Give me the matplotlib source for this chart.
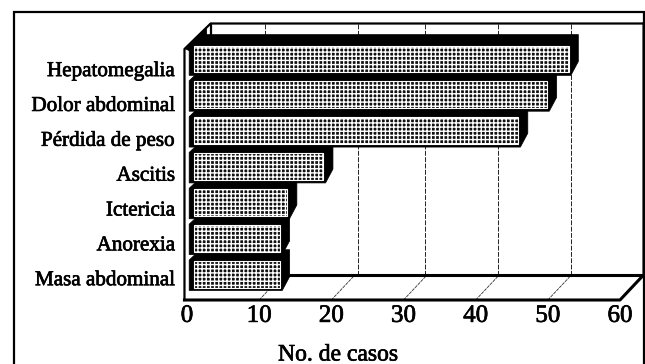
import matplotlib
matplotlib.use('Agg')
import matplotlib.pyplot as plt
import matplotlib.patheffects as pe
from matplotlib.patches import Polygon, Rectangle
import numpy as np

sintomas = ['Hepatomegalia', 'Dolor abdominal', 'Pérdida de peso', 'Ascitis',
            'Ictericia', 'Anorexia', 'Masa abdominal']
casos = [52, 49, 45, 18, 13, 12, 12]
ticks_x = [0, 10, 20, 30, 40, 50, 60]
# the back wall gridlines do not line up with the floor in the original
rejilla_fondo = [7.5, 20.4, 29.7, 39.8, 49.9]

plt.rcParams['font.family'] = ['Liberation Serif', 'DejaVu Serif']
plt.rcParams['hatch.linewidth'] = 1.0

W, H = 645, 364
fig = plt.figure(figsize=(W / 100, H / 100), dpi=100)

# frame around the whole chart
fig.add_artist(Rectangle((14 / W, -0.02), 630 / W, 1.02 - 12.5 / H, transform=fig.transFigure,
                         fill=False, ec='black', lw=1.6))

# axes = front plane of the fake 3d box
ax = fig.add_axes([187 / W, 64 / H, 433 / W, 251 / H])
ax.set_xlim(0, 60)
ax.set_ylim(7, 0)
ax.patch.set_alpha(0)
for s in ax.spines.values():
    s.set_visible(False)

ux = 433 / 60   # px per case
uy = 251 / 7    # px per category
fx, fy = 24 / ux, 25.5 / uy   # depth of box
bx, by = 11 / ux, 11 / uy     # depth of bars
x0 = 6.5 / ux
lw_box = 1.6

# floor gridlines and back wall gridlines
for t in ticks_x[1:-1]:
    ax.plot([t, t + fx * 0.95], [7, 7 - fy * 0.95], color='#333333', lw=0.6, ls=(0, (4, 1)), clip_on=False, zorder=1)
for t in rejilla_fondo:
    ax.plot([t + fx, t + fx], [-fy, 7 - fy], color='#222222', lw=0.7, ls=(0, (5, 1.5)), clip_on=False, zorder=1)

# box lines
ax.plot([-0.35, -0.35, fx - 0.05, 60 + fx], [7, 0, -fy, -fy], color='black', lw=lw_box, clip_on=False, zorder=2)
ax.plot([-0.35, 60, 60 + fx, 60 + fx], [7, 7, 7 - fy, -fy], color='black', lw=lw_box + 0.6, clip_on=False, zorder=2)
ax.plot([fx, 60 + fx], [7 - fy, 7 - fy], color='black', lw=lw_box + 0.6, clip_on=False, zorder=2)
ax.plot([fx, fx], [-fy, 0], color='black', lw=lw_box, clip_on=False, zorder=2)

# bars
pos = np.arange(len(casos)) + 0.28
alto = 0.75
for p, v in zip(pos, casos):
    arriba = p - alto / 2
    abajo = p + alto / 2
    negro = Polygon([(x0 - 0.6, abajo + 0.08), (x0 - 0.6, arriba - 0.02), (x0 - 0.6 + bx, arriba - by),
                     (x0 + v + bx - 0.2, arriba - by), (x0 + v + bx - 0.2, abajo - by),
                     (x0 + v + 0.3, abajo + 0.08)],
                    closed=True, fc='black', ec='black', lw=0.5, clip_on=False, zorder=3)
    ax.add_patch(negro)
ax.barh(pos, casos, left=x0, height=alto, facecolor='#111111', edgecolor='white', hatch='++++',
        linewidth=0.8, zorder=4, clip_on=False)

# wedge in the top left corner
ax.add_patch(Polygon([(-0.2, 0), (fx - 0.6, -fy + 0.1), (fx - 0.6, -0.4), (x0, 0.1)], closed=True,
                     fc='black', ec='black', lw=0.5, clip_on=False, zorder=3))

grueso = [pe.withStroke(linewidth=0.5, foreground='black')]

ax.set_xticks(ticks_x)
ax.set_xticklabels(ticks_x, fontsize=18, path_effects=grueso)
ax.set_yticks(np.arange(len(sintomas)) * 0.972 + 0.56)
ax.set_yticklabels(sintomas, fontsize=15.2, path_effects=grueso)
ax.tick_params(axis='both', length=0)
ax.tick_params(axis='x', pad=3.5)
ax.tick_params(axis='y', pad=8.5)
ax.set_xlabel('No. de casos', fontsize=17, labelpad=8, path_effects=grueso)
ax.xaxis.set_label_coords((338 - 187) / 433, -(355 - 300) / 251, transform=ax.transAxes)
ax.xaxis.label.set_verticalalignment('center')

fig.savefig('out.png', dpi=100)
